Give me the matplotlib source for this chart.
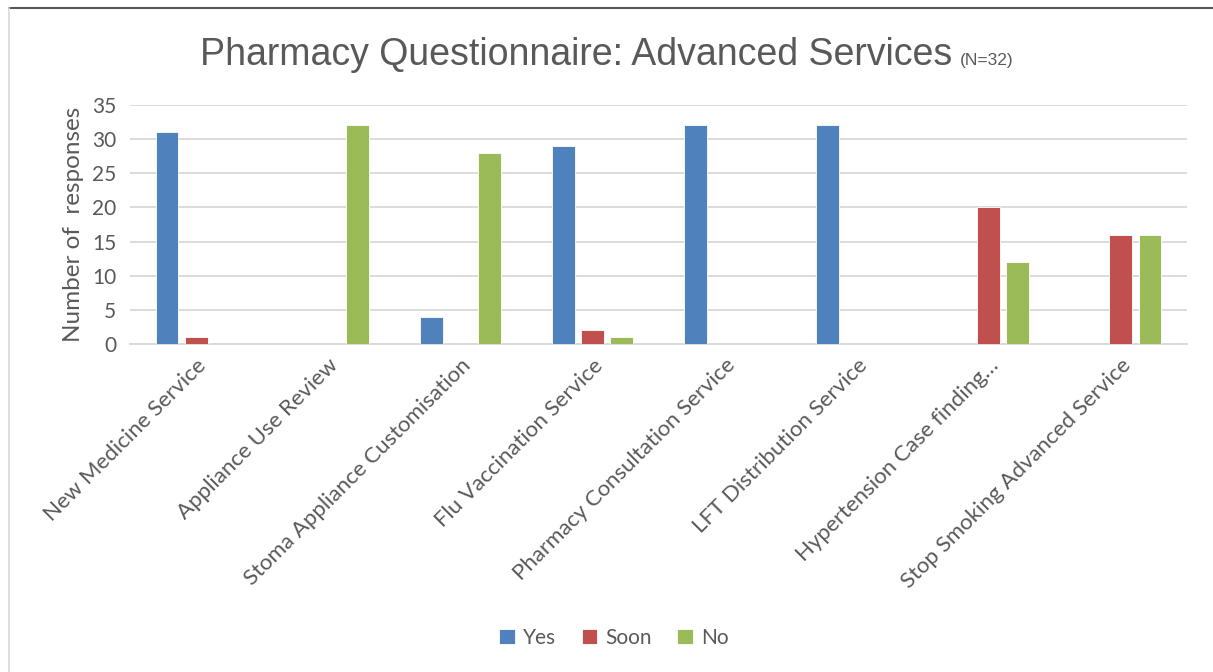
import matplotlib.pyplot as plt
import numpy as np
from matplotlib.lines import Line2D

categories = [
    "New Medicine Service",
    "Appliance Use Review",
    "Stoma Appliance Customisation",
    "Flu Vaccination Service",
    "Pharmacy Consultation Service",
    "LFT Distribution Service",
    "Hypertension Case finding…",
    "Stop Smoking Advanced Service",
]
yes = [31, 0, 4, 29, 32, 32, 0, 0]
soon = [1, 0, 0, 2, 0, 0, 20, 16]
no = [0, 32, 28, 1, 0, 0, 12, 16]

series = [("Yes", yes, "#4f81bd"), ("Soon", soon, "#c0504d"), ("No", no, "#9bbb59")]

FONT = ["Lato", "DejaVu Sans"]
TXT = "#595959"

fig = plt.figure(figsize=(12.13, 6.72), dpi=100)
ax = fig.add_axes([130 / 1213, 1 - 344 / 672, 1057 / 1213, 239 / 672])

x = np.arange(len(categories))
step = 0.22
width = 0.174
for i, (name, vals, color) in enumerate(series):
    ax.bar(x + (i - 1) * step, vals, width, color=color, label=name,
           edgecolor="white", linewidth=0.6, zorder=3)

ax.set_xlim(-0.5, len(categories) - 0.5)
ax.set_ylim(0, 35)
ax.set_yticks(range(0, 36, 5))
ax.grid(axis="y", color="#d9d9d9", linewidth=1.3, zorder=0)
for s in ["top", "right", "left"]:
    ax.spines[s].set_visible(False)
ax.spines["bottom"].set_color("#d9d9d9")
ax.spines["bottom"].set_linewidth(1.3)
ax.tick_params(axis="both", length=0, colors=TXT)
ax.set_yticklabels([str(v) for v in range(0, 36, 5)], fontsize=15, family=FONT, color=TXT)
ax.tick_params(axis="y", pad=10)
ax.set_xticks(x)
ax.set_xticklabels(categories, rotation=45, ha="right", va="top",
                   rotation_mode="anchor", fontsize=16, family=FONT, color=TXT)
ax.tick_params(axis="x", pad=8)
ax.set_ylabel("Number of  responses", fontsize=17.5, family=FONT, color=TXT, labelpad=6)

# title with small (N=32) suffix
t = fig.text(200 / 1213, 1 - 65 / 672, "Pharmacy Questionnaire: Advanced Services",
             fontsize=27, family=["Liberation Sans", "DejaVu Sans"], color=TXT, ha="left", va="baseline")
fig.canvas.draw()
bb = t.get_window_extent()
fig.text(bb.x1 / fig.bbox.width + 0.006, 1 - 65 / 672, "(N=32)", fontsize=12.5,
         family=["Liberation Sans", "DejaVu Sans"], color=TXT, ha="left", va="baseline")

fig.legend(loc="center", bbox_to_anchor=(614 / 1213, 1 - 638 / 672), ncol=3, frameon=False,
           prop={"family": FONT, "size": 15}, labelcolor=TXT, handlelength=0.75,
           handleheight=0.75, handletextpad=0.4, columnspacing=1.2)

# outer chart border
fig.add_artist(Line2D([9 / 1213, 1], [1 - 8 / 672, 1 - 8 / 672], color="#595959", linewidth=1.5))
fig.add_artist(Line2D([9 / 1213, 9 / 1213], [0, 1 - 8 / 672], color="#d9d9d9", linewidth=1.2))

fig.savefig("out.png", dpi=100)
